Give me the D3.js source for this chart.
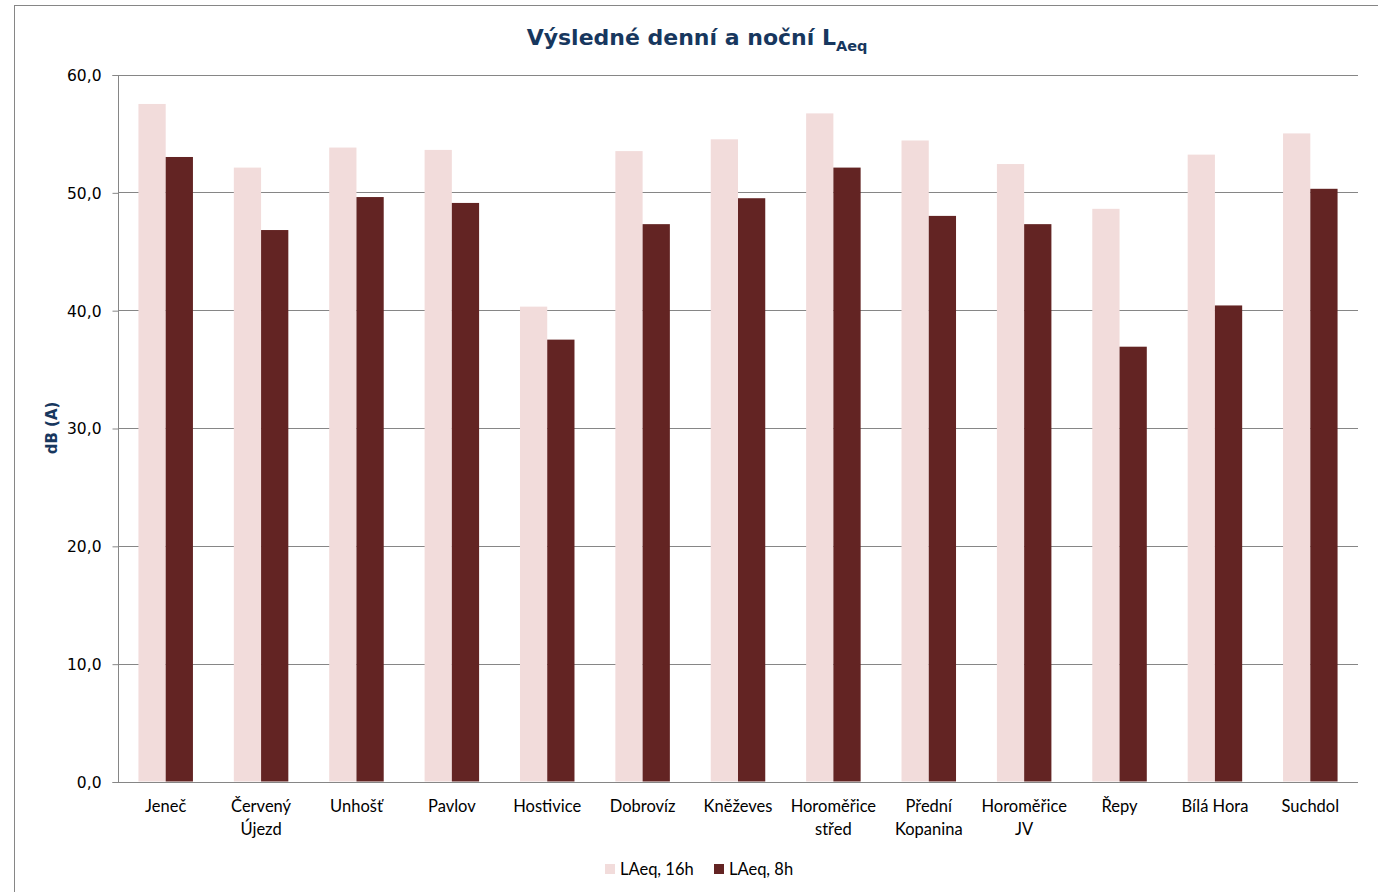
<!DOCTYPE html>
<html><head><meta charset="utf-8">
<script src="https://cdn.jsdelivr.net/npm/d3@7"></script>
<style>body{margin:0;background:#fff}svg{display:block}</style>
</head><body>
<svg id="c" width="1378" height="892"></svg>
<script>
const categories = [["Jeneč"],["Červený","Újezd"],["Unhošť"],["Pavlov"],["Hostivice"],["Dobrovíz"],["Kněževes"],["Horoměřice","střed"],["Přední","Kopanina"],["Horoměřice","JV"],["Řepy"],["Bílá Hora"],["Suchdol"]];
const seriesNames = ["LAeq, 16h","LAeq, 8h"];
const day16h = [57.5,52.1,53.8,53.6,40.3,53.5,54.5,56.7,54.4,52.4,48.6,53.2,55.0];
const night8h = [53.0,46.8,49.6,49.1,37.5,47.3,49.5,52.1,48.0,47.3,36.9,40.4,50.3];
const yTicks = [0,10,20,30,40,50,60];
const colors = ["#F2DCDB","#632423"];

const svg = d3.select("#c");
const M = {left:118, right:1358, top:74.5, bottom:781.5};
const keys = categories.map(c=>c.join(" "));
const x = d3.scaleBand().domain(keys).range([M.left,M.right]).paddingInner(0).paddingOuter(0);
const bw = x.bandwidth();
const barW = bw/3.5;
const y = d3.scaleLinear().domain([0,60]).range([M.bottom,M.top]);

// chart frame
svg.append("rect").attr("x",14.5).attr("y",5.5).attr("width",1400).attr("height",1000)
  .attr("fill","none").attr("stroke","#868686").attr("stroke-width",1);

// gridlines
svg.append("g").selectAll("line").data(yTicks.filter(t=>t>0)).join("line")
  .attr("x1",M.left).attr("x2",M.right)
  .attr("y1",d=>Math.round(y(d))+0.5).attr("y2",d=>Math.round(y(d))+0.5)
  .attr("stroke","#868686").attr("stroke-width",1);

// bars
const data = [day16h, night8h];
data.forEach((vals,si)=>{
  svg.append("g").selectAll("rect").data(vals).join("rect")
    .attr("x",(d,i)=>x(keys[i]) + bw*0.75/3.5 + si*barW)
    .attr("y",d=>y(d)).attr("width",barW).attr("height",d=>y(0)-y(d))
    .attr("fill",colors[si]);
});

// y axis
const yAxis = d3.axisLeft(y).tickValues(yTicks).tickSize(6).tickFormat(d=>d3.format(".1f")(d).replace(".",","));
const ga = svg.append("g").attr("transform",`translate(${M.left+0.5},0.5)`).call(yAxis);
ga.select(".domain").attr("stroke","#868686").attr("d",`M-6,${Math.round(M.top)}H0V${Math.round(M.bottom)}H-6`);
ga.selectAll(".tick line").attr("stroke","#868686");
ga.selectAll(".tick text").attr("x",-17).attr("dy","0.35em").attr("fill","#000")
  .style("font-family","'DejaVu Sans', Verdana, sans-serif").style("font-size","15.5px");

// x axis baseline
svg.append("line").attr("x1",M.left).attr("x2",M.right).attr("y1",Math.round(M.bottom)+0.5).attr("y2",Math.round(M.bottom)+0.5)
  .attr("stroke","#868686");

// category labels
const lab = svg.append("g").selectAll("text").data(categories).join("text")
  .attr("x",(d,i)=>x(keys[i])+bw/2).attr("y",812).attr("text-anchor","middle")
  .style("font-family","Lato, 'Open Sans', sans-serif").style("font-size","16.5px").attr("fill","#000");
lab.selectAll("tspan").data(d=>d).join("tspan")
  .attr("x",function(){return this.parentNode.getAttribute("x");})
  .attr("dy",(d,i)=>i===0?0:23).text(d=>d);

// y axis title
svg.append("text").attr("transform","translate(57,428) rotate(-90)").attr("text-anchor","middle")
  .style("font-family","'DejaVu Sans', Verdana, sans-serif").style("font-weight","bold").style("font-size","15px")
  .attr("fill","#17375E").text("dB (A)");

// title
const t = svg.append("text").attr("x",697).attr("y",45).attr("text-anchor","middle")
  .style("font-family","'DejaVu Sans', Verdana, sans-serif").style("font-weight","bold").style("font-size","22px")
  .attr("fill","#17375E");
t.append("tspan").text("Výsledné denní a noční L");
t.append("tspan").attr("dy",6).style("font-size","14.5px").text("Aeq");

// legend
const lg = svg.append("g");
const legX = [605, 714];
seriesNames.forEach((n,i)=>{
  lg.append("rect").attr("x",legX[i]).attr("y",864).attr("width",10).attr("height",10).attr("fill",colors[i]);
  lg.append("text").attr("x",legX[i]+15).attr("y",875)
    .style("font-family","Lato, 'Open Sans', sans-serif").style("font-size","16.5px").attr("fill","#000").text(n);
});
</script>
</body></html>
